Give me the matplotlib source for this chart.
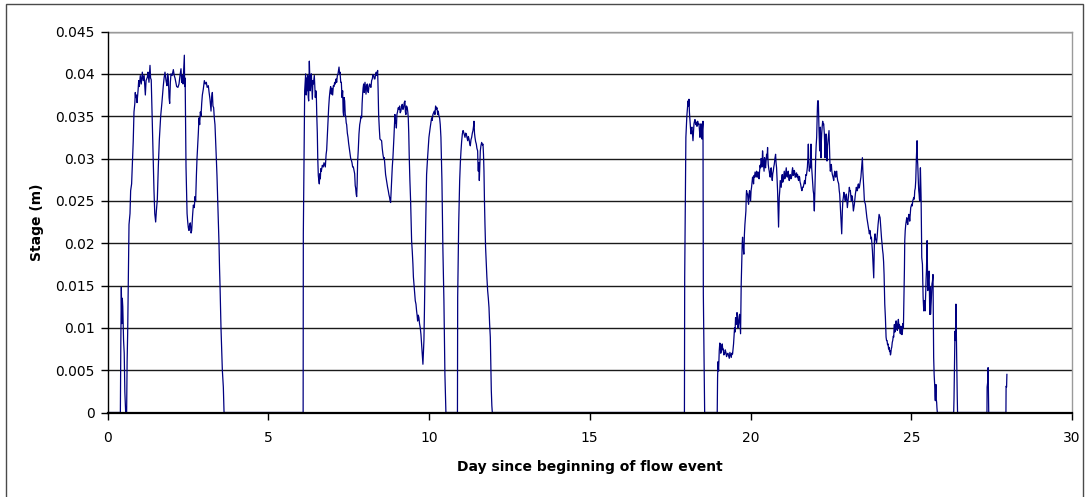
import matplotlib
matplotlib.use("Agg")
import matplotlib.pyplot as plt
from matplotlib.patches import Rectangle
from matplotlib.ticker import FuncFormatter, MultipleLocator

plt.rcParams['font.family'] = ['DejaVu Sans']

# Stage record (day since start of event, stage in metres), one list per wet spell
event_1 = [
    (0.00, 0), (0.40, 0), (0.415, 0.0085), (0.43, 0.0148), (0.445, 0.0105), (0.46, 0.0135),
    (0.475, 0.0125), (0.50, 0.0085), (0.52, 0.0070), (0.54, 0.0024), (0.565, 0), (0.595, 0),
    (0.61, 0.0060), (0.627, 0.0093), (0.645, 0.0145), (0.669, 0.0222), (0.70, 0.0235),
    (0.72, 0.0262), (0.75, 0.0270), (0.78, 0.0300), (0.80, 0.0320), (0.824, 0.0355),
    (0.85, 0.0365), (0.865, 0.0378), (0.876, 0.0372), (0.90, 0.0375), (0.918, 0.0366),
    (0.95, 0.0380), (0.97, 0.0392), (0.99, 0.0385), (1.02, 0.0398), (1.05, 0.0388),
    (1.083, 0.0402), (1.11, 0.0392), (1.14, 0.0398), (1.177, 0.0375), (1.20, 0.0392),
    (1.239, 0.0396), (1.26, 0.0402), (1.29, 0.0390), (1.322, 0.0410), (1.34, 0.0395),
    (1.36, 0.0393), (1.38, 0.0360), (1.395, 0.0340), (1.42, 0.0300), (1.446, 0.0262),
    (1.47, 0.0235), (1.498, 0.0225), (1.52, 0.0238), (1.55, 0.0252), (1.58, 0.0290),
    (1.612, 0.0322), (1.654, 0.0350), (1.69, 0.0365), (1.736, 0.0386), (1.76, 0.0395),
    (1.788, 0.0402), (1.82, 0.0392), (1.85, 0.0386), (1.87, 0.0400), (1.892, 0.0395),
    (1.915, 0.0372), (1.934, 0.0365), (1.955, 0.0390), (1.975, 0.0400), (2.01, 0.0398),
    (2.048, 0.0405), (2.075, 0.0398), (2.10, 0.0395), (2.125, 0.0390), (2.151, 0.0385),
    (2.19, 0.0384), (2.224, 0.0388), (2.255, 0.0398), (2.286, 0.0406), (2.305, 0.0390),
    (2.327, 0.0398), (2.35, 0.0388), (2.37, 0.0405), (2.39, 0.0422), (2.40, 0.0385),
    (2.415, 0.0395), (2.43, 0.0330), (2.442, 0.0290), (2.46, 0.0260), (2.475, 0.0235),
    (2.493, 0.0226), (2.515, 0.0218), (2.535, 0.0215), (2.556, 0.0222), (2.576, 0.0224),
    (2.60, 0.0212), (2.618, 0.0215), (2.645, 0.0232), (2.67, 0.0245), (2.70, 0.0242),
    (2.72, 0.0255), (2.742, 0.0250), (2.765, 0.0280), (2.784, 0.0300), (2.805, 0.0315),
    (2.825, 0.0330), (2.845, 0.0348), (2.867, 0.0340), (2.888, 0.0355), (2.908, 0.0350),
    (2.93, 0.0365), (2.95, 0.0375), (2.98, 0.0382), (3.012, 0.0392), (3.04, 0.0388),
    (3.074, 0.0390), (3.10, 0.0384), (3.136, 0.0386), (3.16, 0.0378), (3.188, 0.0370),
    (3.22, 0.0356), (3.24, 0.0372), (3.261, 0.0378), (3.28, 0.0362), (3.302, 0.0360),
    (3.322, 0.0348), (3.343, 0.0340), (3.365, 0.0320), (3.385, 0.0300), (3.405, 0.0280),
    (3.427, 0.0250), (3.448, 0.0225), (3.468, 0.0200), (3.485, 0.0170), (3.50, 0.0150),
    (3.53, 0.0100), (3.55, 0.0075), (3.572, 0.0050), (3.603, 0.0030), (3.625, 0),
]

event_2 = [
    (6.085, 0), (6.091, 0.0211), (6.133, 0.0380), (6.164, 0.0400), (6.18, 0.0375),
    (6.195, 0.0395), (6.21, 0.0380), (6.226, 0.0398), (6.245, 0.0372), (6.257, 0.0368),
    (6.278, 0.0415), (6.295, 0.0392), (6.309, 0.0380), (6.325, 0.0395), (6.340, 0.0400),
    (6.355, 0.0385), (6.371, 0.0370), (6.39, 0.0392), (6.402, 0.0388), (6.433, 0.0398),
    (6.45, 0.0385), (6.464, 0.0372), (6.48, 0.0380), (6.495, 0.0375), (6.51, 0.0350),
    (6.526, 0.0330), (6.54, 0.0300), (6.557, 0.0280), (6.57, 0.0275), (6.588, 0.0270),
    (6.605, 0.0282), (6.620, 0.0276), (6.635, 0.0288), (6.651, 0.0285), (6.682, 0.0292),
    (6.71, 0.0290), (6.734, 0.0295), (6.775, 0.0290), (6.80, 0.0305), (6.817, 0.0310),
    (6.848, 0.0335), (6.879, 0.0360), (6.90, 0.0372), (6.921, 0.0380), (6.94, 0.0385),
    (6.962, 0.0376), (6.98, 0.0383), (7.003, 0.0375), (7.025, 0.0386), (7.045, 0.0385),
    (7.065, 0.0390), (7.087, 0.0388), (7.11, 0.0394), (7.128, 0.0390), (7.15, 0.0398),
    (7.17, 0.0400), (7.201, 0.0408), (7.22, 0.0400), (7.232, 0.0402), (7.255, 0.0390),
    (7.273, 0.0390), (7.295, 0.0372), (7.314, 0.0380), (7.33, 0.0355), (7.346, 0.0350),
    (7.36, 0.0372), (7.377, 0.0368), (7.395, 0.0352), (7.408, 0.0350), (7.425, 0.0342),
    (7.439, 0.0340), (7.46, 0.0330), (7.481, 0.0325), (7.50, 0.0318), (7.522, 0.0312),
    (7.545, 0.0305), (7.564, 0.0300), (7.585, 0.0298), (7.605, 0.0295), (7.625, 0.0290),
    (7.647, 0.0290), (7.668, 0.0286), (7.688, 0.0282), (7.705, 0.0268), (7.719, 0.0265),
    (7.735, 0.0258), (7.750, 0.0255), (7.765, 0.0270), (7.781, 0.0297), (7.80, 0.0310),
    (7.822, 0.0329), (7.845, 0.0340), (7.864, 0.0344), (7.885, 0.0350), (7.905, 0.0348),
    (7.92, 0.0365), (7.936, 0.0376), (7.95, 0.0383), (7.967, 0.0388), (7.985, 0.0378),
    (8.009, 0.0390), (8.025, 0.0382), (8.04, 0.0376), (8.06, 0.0386), (8.081, 0.0388),
    (8.095, 0.0380), (8.112, 0.0378), (8.135, 0.0386), (8.154, 0.0388), (8.175, 0.0385),
    (8.195, 0.0384), (8.215, 0.0392), (8.236, 0.0394), (8.256, 0.0399), (8.278, 0.0398),
    (8.30, 0.0394), (8.319, 0.0394), (8.34, 0.0400), (8.36, 0.0402), (8.38, 0.0398),
    (8.402, 0.0404), (8.418, 0.0380), (8.433, 0.0352), (8.455, 0.0335), (8.474, 0.0323),
    (8.50, 0.0322), (8.526, 0.0321), (8.545, 0.0312), (8.567, 0.0305), (8.589, 0.0300),
    (8.609, 0.0301), (8.63, 0.0290), (8.65, 0.0281), (8.67, 0.0276), (8.692, 0.0270),
    (8.712, 0.0266), (8.733, 0.0262), (8.755, 0.0257), (8.774, 0.0254), (8.79, 0.0250),
    (8.806, 0.0248), (8.82, 0.0260), (8.837, 0.0274), (8.858, 0.0290), (8.878, 0.0301),
    (8.895, 0.0314), (8.909, 0.0325), (8.925, 0.0340), (8.94, 0.0352), (8.955, 0.0342),
    (8.971, 0.0344), (8.985, 0.0336), (9.002, 0.0352), (9.02, 0.0355), (9.044, 0.0360),
    (9.065, 0.0358), (9.085, 0.0362), (9.105, 0.0354), (9.127, 0.0356), (9.148, 0.0362),
    (9.168, 0.0364), (9.19, 0.0358), (9.21, 0.0360), (9.23, 0.0366), (9.251, 0.0368),
    (9.265, 0.0355), (9.282, 0.0352), (9.30, 0.0362), (9.324, 0.0360), (9.34, 0.0355),
    (9.355, 0.0348), (9.37, 0.0330), (9.386, 0.0301), (9.405, 0.0275), (9.428, 0.0250),
    (9.445, 0.0225), (9.459, 0.0203), (9.48, 0.0190), (9.50, 0.0175), (9.515, 0.0160),
    (9.532, 0.0152), (9.55, 0.0145), (9.573, 0.0132), (9.595, 0.0128), (9.614, 0.0120),
    (9.63, 0.0115), (9.646, 0.0108), (9.665, 0.0115), (9.687, 0.0112), (9.705, 0.0105),
    (9.728, 0.0100), (9.75, 0.0092), (9.77, 0.0081), (9.79, 0.0070), (9.811, 0.0057),
    (9.825, 0.0070), (9.842, 0.0085), (9.858, 0.0120), (9.873, 0.0163), (9.894, 0.0215),
    (9.91, 0.0250), (9.925, 0.0281), (9.956, 0.0301), (9.998, 0.0325), (10.039, 0.0337),
    (10.081, 0.0348), (10.10, 0.0345), (10.122, 0.0352), (10.164, 0.0356), (10.185, 0.0352),
    (10.205, 0.0362), (10.225, 0.0358), (10.247, 0.0360), (10.27, 0.0352), (10.288, 0.0356),
    (10.31, 0.0350), (10.33, 0.0348), (10.35, 0.0340), (10.371, 0.0325), (10.385, 0.0300),
    (10.402, 0.0274), (10.418, 0.0230), (10.433, 0.0191), (10.45, 0.0160), (10.464, 0.0132),
    (10.48, 0.0090), (10.495, 0.0045), (10.515, 0.0015), (10.526, 0),
]

event_3 = [
    (10.885, 0), (10.892, 0.0136), (10.923, 0.0222), (10.954, 0.0274), (10.975, 0.0295),
    (10.995, 0.0309), (11.015, 0.0320), (11.037, 0.0329), (11.06, 0.0333), (11.078, 0.0331),
    (11.10, 0.0328), (11.12, 0.0325), (11.14, 0.0330), (11.161, 0.0329), (11.18, 0.0325),
    (11.203, 0.0321), (11.225, 0.0326), (11.244, 0.0323), (11.265, 0.0318), (11.285, 0.0315),
    (11.305, 0.0322), (11.327, 0.0325), (11.348, 0.0330), (11.368, 0.0333), (11.385, 0.0338),
    (11.399, 0.0344), (11.415, 0.0330), (11.43, 0.0325), (11.45, 0.0320), (11.472, 0.0317),
    (11.49, 0.0312), (11.513, 0.0309), (11.525, 0.0290), (11.534, 0.0285), (11.55, 0.0295),
    (11.565, 0.0274), (11.58, 0.0290), (11.596, 0.0309), (11.615, 0.0315), (11.638, 0.0319),
    (11.66, 0.0316), (11.679, 0.0317), (11.695, 0.0305), (11.71, 0.0285), (11.725, 0.0250),
    (11.741, 0.0222), (11.76, 0.0195), (11.783, 0.0175), (11.80, 0.0160), (11.824, 0.0144),
    (11.845, 0.0135), (11.866, 0.0124), (11.885, 0.0105), (11.907, 0.0089), (11.92, 0.0060),
    (11.938, 0.0026), (11.955, 0.0008), (11.969, 0),
]

event_4 = [
    (17.945, 0), (17.953, 0.0159), (17.975, 0.0260), (17.99, 0.0325), (18.02, 0.0350),
    (18.04, 0.0360), (18.056, 0.0368), (18.07, 0.0362), (18.087, 0.0370), (18.10, 0.0355),
    (18.118, 0.0344), (18.135, 0.0335), (18.149, 0.0329), (18.165, 0.0336), (18.18, 0.0337),
    (18.195, 0.0330), (18.211, 0.0321), (18.225, 0.0330), (18.242, 0.0341), (18.258, 0.0344),
    (18.273, 0.0346), (18.295, 0.0340), (18.315, 0.0343), (18.335, 0.0338), (18.356, 0.0344),
    (18.378, 0.0340), (18.398, 0.0341), (18.415, 0.0333), (18.429, 0.0325), (18.445, 0.0335),
    (18.46, 0.0341), (18.475, 0.0330), (18.491, 0.0323), (18.505, 0.0335), (18.522, 0.0344),
    (18.533, 0.0140), (18.574, 0),
]

event_5 = [
    (18.965, 0), (18.976, 0.0041), (18.99, 0.0060), (19.007, 0.0049), (19.028, 0.0073),
    (19.045, 0.0082), (19.059, 0.0081), (19.075, 0.0070), (19.09, 0.0073), (19.105, 0.0078),
    (19.121, 0.0081), (19.137, 0.0074), (19.152, 0.0075), (19.17, 0.0068), (19.194, 0.0069),
    (19.215, 0.0074), (19.235, 0.0071), (19.255, 0.0066), (19.276, 0.0069), (19.297, 0.0070),
    (19.318, 0.0067), (19.34, 0.0064), (19.359, 0.0071), (19.38, 0.0068), (19.401, 0.0065),
    (19.42, 0.0070), (19.442, 0.0069), (19.473, 0.0081), (19.504, 0.0100), (19.52, 0.0095),
    (19.535, 0.0112), (19.55, 0.0108), (19.566, 0.0104), (19.58, 0.0118), (19.597, 0.0114),
    (19.612, 0.0100), (19.628, 0.0104), (19.645, 0.0110), (19.659, 0.0116), (19.675, 0.0105),
    (19.691, 0.0093), (19.70, 0.0120), (19.711, 0.0152), (19.722, 0.0170), (19.732, 0.0183),
    (19.743, 0.0200), (19.753, 0.0207), (19.765, 0.0196), (19.774, 0.0199), (19.784, 0.0190),
    (19.794, 0.0187), (19.81, 0.0210), (19.826, 0.0222), (19.842, 0.0230), (19.857, 0.0238),
    (19.867, 0.0255), (19.877, 0.0262), (19.893, 0.0258), (19.909, 0.0258), (19.925, 0.0250),
    (19.94, 0.0246), (19.955, 0.0258), (19.971, 0.0262), (19.987, 0.0256), (20.002, 0.0250),
    (20.018, 0.0262), (20.033, 0.0266), (20.05, 0.0272), (20.064, 0.0278), (20.08, 0.0276),
    (20.095, 0.0270), (20.11, 0.0280), (20.126, 0.0278), (20.142, 0.0284), (20.158, 0.0281),
    (20.173, 0.0278), (20.189, 0.0285), (20.205, 0.0280), (20.22, 0.0278), (20.236, 0.0284),
    (20.251, 0.0281), (20.267, 0.0276), (20.282, 0.0285), (20.298, 0.0292), (20.313, 0.0289),
    (20.33, 0.0300), (20.344, 0.0297), (20.36, 0.0290), (20.375, 0.0309), (20.39, 0.0300),
    (20.406, 0.0293), (20.422, 0.0285), (20.438, 0.0301), (20.453, 0.0292), (20.469, 0.0289),
    (20.485, 0.0298), (20.50, 0.0305), (20.515, 0.0300), (20.531, 0.0313), (20.542, 0.0300),
    (20.552, 0.0293), (20.568, 0.0288), (20.583, 0.0285), (20.60, 0.0280), (20.614, 0.0278),
    (20.63, 0.0288), (20.645, 0.0289), (20.66, 0.0280), (20.677, 0.0274), (20.692, 0.0282),
    (20.708, 0.0285), (20.724, 0.0290), (20.739, 0.0293), (20.76, 0.0300), (20.78, 0.0305),
    (20.795, 0.0295), (20.811, 0.0289), (20.826, 0.0275), (20.842, 0.0262), (20.858, 0.0240),
    (20.873, 0.0219), (20.884, 0.0240), (20.894, 0.0254), (20.91, 0.0262), (20.925, 0.0274),
    (20.94, 0.0270), (20.956, 0.0266), (20.97, 0.0276), (20.987, 0.0281), (21.002, 0.0272),
    (21.018, 0.0274), (21.034, 0.0280), (21.05, 0.0285), (21.065, 0.0276), (21.081, 0.0278),
    (21.097, 0.0284), (21.112, 0.0289), (21.128, 0.0280), (21.143, 0.0278), (21.158, 0.0282),
    (21.174, 0.0285), (21.19, 0.0278), (21.205, 0.0274), (21.22, 0.0280), (21.236, 0.0281),
    (21.257, 0.0276), (21.278, 0.0278), (21.294, 0.0285), (21.309, 0.0289), (21.325, 0.0280),
    (21.34, 0.0281), (21.356, 0.0286), (21.371, 0.0285), (21.387, 0.0278), (21.402, 0.0278),
    (21.418, 0.0282), (21.433, 0.0283), (21.45, 0.0278), (21.464, 0.0281), (21.48, 0.0276),
    (21.495, 0.0274), (21.51, 0.0279), (21.527, 0.0278), (21.542, 0.0272), (21.558, 0.0270),
    (21.58, 0.0265), (21.599, 0.0262), (21.62, 0.0266), (21.64, 0.0266), (21.66, 0.0270),
    (21.682, 0.0274), (21.70, 0.0270), (21.723, 0.0281), (21.74, 0.0280), (21.754, 0.0285),
    (21.77, 0.0290), (21.785, 0.0301), (21.799, 0.0317), (21.81, 0.0300), (21.83, 0.0285),
    (21.846, 0.0290), (21.861, 0.0289), (21.872, 0.0300), (21.882, 0.0317), (21.893, 0.0300),
    (21.903, 0.0289), (21.918, 0.0280), (21.934, 0.0270), (21.95, 0.0262), (21.965, 0.0258),
    (21.976, 0.0245), (21.986, 0.0238), (21.996, 0.0255), (22.006, 0.0270), (22.017, 0.0285),
    (22.027, 0.0301), (22.042, 0.0315), (22.058, 0.0325), (22.07, 0.0345), (22.081, 0.0360),
    (22.089, 0.0368), (22.10, 0.0362), (22.11, 0.0368), (22.12, 0.0350), (22.131, 0.0333),
    (22.142, 0.0320), (22.152, 0.0309), (22.162, 0.0325), (22.172, 0.0337), (22.183, 0.0315),
    (22.193, 0.0301), (22.204, 0.0320), (22.214, 0.0329), (22.23, 0.0338), (22.245, 0.0344),
    (22.26, 0.0340), (22.276, 0.0341), (22.287, 0.0335), (22.297, 0.0329), (22.308, 0.0315),
    (22.318, 0.0301), (22.333, 0.0318), (22.349, 0.0329), (22.364, 0.0310), (22.38, 0.0297),
    (22.395, 0.0315), (22.411, 0.0321), (22.427, 0.0328), (22.442, 0.0333), (22.452, 0.0318),
    (22.463, 0.0301), (22.474, 0.0290), (22.484, 0.0285), (22.50, 0.0290), (22.515, 0.0293),
    (22.53, 0.0285), (22.546, 0.0281), (22.567, 0.0278), (22.588, 0.0274), (22.603, 0.0280),
    (22.619, 0.0285), (22.635, 0.0280), (22.65, 0.0278), (22.665, 0.0284), (22.681, 0.0285),
    (22.697, 0.0278), (22.712, 0.0274), (22.728, 0.0272), (22.743, 0.0270), (22.76, 0.0262),
    (22.774, 0.0258), (22.79, 0.0246), (22.806, 0.0234), (22.822, 0.0220), (22.837, 0.0211),
    (22.847, 0.0225), (22.857, 0.0238), (22.872, 0.0250), (22.888, 0.0254), (22.904, 0.0260),
    (22.92, 0.0258), (22.935, 0.0252), (22.951, 0.0250), (22.966, 0.0255), (22.982, 0.0258),
    (22.997, 0.0250), (23.013, 0.0242), (23.028, 0.0248), (23.044, 0.0254), (23.06, 0.0262),
    (23.075, 0.0266), (23.09, 0.0262), (23.106, 0.0262), (23.122, 0.0255), (23.138, 0.0250),
    (23.153, 0.0256), (23.169, 0.0254), (23.185, 0.0245), (23.20, 0.0238), (23.216, 0.0242),
    (23.231, 0.0246), (23.247, 0.0252), (23.262, 0.0258), (23.278, 0.0262), (23.293, 0.0266),
    (23.31, 0.0262), (23.325, 0.0262), (23.34, 0.0268), (23.356, 0.0270), (23.372, 0.0265),
    (23.387, 0.0266), (23.402, 0.0270), (23.418, 0.0274), (23.434, 0.0278), (23.449, 0.0285),
    (23.465, 0.0292), (23.48, 0.0301), (23.495, 0.0285), (23.511, 0.0274), (23.527, 0.0262),
    (23.542, 0.0250), (23.558, 0.0248), (23.574, 0.0246), (23.59, 0.0240), (23.605, 0.0234),
    (23.62, 0.0230), (23.636, 0.0226), (23.652, 0.0222), (23.667, 0.0219), (23.683, 0.0215),
    (23.698, 0.0211), (23.714, 0.0215), (23.729, 0.0211), (23.745, 0.0205), (23.761, 0.0207),
    (23.776, 0.0200), (23.792, 0.0191), (23.802, 0.0183), (23.812, 0.0175), (23.822, 0.0168),
    (23.833, 0.0159), (23.843, 0.0180), (23.854, 0.0203), (23.865, 0.0210), (23.875, 0.0211),
    (23.89, 0.0205), (23.906, 0.0203), (23.92, 0.0200), (23.937, 0.0207), (23.952, 0.0215),
    (23.968, 0.0222), (23.984, 0.0228), (24.00, 0.0234), (24.015, 0.0232), (24.031, 0.0230),
    (24.046, 0.0222), (24.062, 0.0215), (24.077, 0.0205), (24.093, 0.0199), (24.108, 0.0192),
    (24.124, 0.0187), (24.14, 0.0178), (24.155, 0.0163), (24.166, 0.0145), (24.176, 0.0128),
    (24.186, 0.0120), (24.196, 0.0112), (24.207, 0.0100), (24.217, 0.0089), (24.232, 0.0085),
    (24.248, 0.0085), (24.263, 0.0080), (24.279, 0.0081), (24.295, 0.0075), (24.31, 0.0077),
    (24.325, 0.0072), (24.341, 0.0073), (24.352, 0.0068), (24.362, 0.0069), (24.378, 0.0075),
    (24.393, 0.0077), (24.41, 0.0083), (24.424, 0.0085), (24.44, 0.0090), (24.455, 0.0089),
    (24.466, 0.0100), (24.476, 0.0104), (24.49, 0.0095), (24.507, 0.0100), (24.522, 0.0108),
    (24.538, 0.0108), (24.553, 0.0098), (24.569, 0.0097), (24.585, 0.0105), (24.60, 0.0110),
    (24.616, 0.0100), (24.632, 0.0104), (24.648, 0.0095), (24.663, 0.0093), (24.678, 0.0102),
    (24.694, 0.0100), (24.71, 0.0092), (24.725, 0.0095), (24.74, 0.0105), (24.756, 0.0100),
    (24.766, 0.0120), (24.777, 0.0136), (24.788, 0.0170), (24.798, 0.0203), (24.813, 0.0215),
    (24.829, 0.0222), (24.845, 0.0226), (24.86, 0.0230), (24.876, 0.0225), (24.891, 0.0222),
    (24.907, 0.0228), (24.922, 0.0234), (24.938, 0.0232), (24.953, 0.0226), (24.969, 0.0235),
    (24.984, 0.0242), (25.00, 0.0244), (25.015, 0.0246), (25.031, 0.0244), (25.047, 0.0250),
    (25.062, 0.0252), (25.078, 0.0254), (25.094, 0.0252), (25.109, 0.0262), (25.125, 0.0265),
    (25.14, 0.0274), (25.15, 0.0290), (25.16, 0.0301), (25.17, 0.0312), (25.181, 0.0321),
    (25.191, 0.0300), (25.202, 0.0293), (25.212, 0.0280), (25.223, 0.0270), (25.233, 0.0262),
    (25.244, 0.0258), (25.254, 0.0252), (25.265, 0.0250), (25.275, 0.0275), (25.285, 0.0289),
    (25.296, 0.0270), (25.306, 0.0254), (25.316, 0.0220), (25.327, 0.0183), (25.338, 0.0178),
    (25.348, 0.0175), (25.358, 0.0155), (25.369, 0.0136), (25.379, 0.0128), (25.389, 0.0120),
    (25.40, 0.0128), (25.41, 0.0132), (25.42, 0.0125), (25.431, 0.0120), (25.441, 0.0130),
    (25.452, 0.0144), (25.462, 0.0158), (25.472, 0.0167), (25.483, 0.0185), (25.493, 0.0203),
    (25.503, 0.0170), (25.514, 0.0144), (25.524, 0.0150), (25.535, 0.0159), (25.545, 0.0165),
    (25.555, 0.0167), (25.566, 0.0140), (25.576, 0.0116), (25.583, 0.0148), (25.60, 0.0116),
    (25.62, 0.0130), (25.645, 0.0152), (25.66, 0.0155), (25.676, 0.0163), (25.687, 0.0110),
    (25.697, 0.0065), (25.712, 0.0045), (25.728, 0.0033), (25.74, 0.0020), (25.749, 0.0014),
    (25.76, 0.0030), (25.77, 0.0033), (25.78, 0.0015), (25.79, 0.0012), (25.80, 0.0005),
    (25.811, 0),
]

event_6 = [
    (26.32, 0), (26.33, 0.0016), (26.36, 0.0096), (26.375, 0.0085), (26.39, 0.0128),
    (26.40, 0.0100), (26.41, 0.0069), (26.43, 0.0020), (26.44, 0),
]

event_7 = [
    (27.355, 0), (27.36, 0.0030), (27.375, 0.0035), (27.39, 0.0053), (27.40, 0.0030), (27.41, 0),
]

event_8 = [
    (27.945, 0), (27.95, 0.0031), (27.965, 0.0030), (27.975, 0.0045),
]

events = [event_1, event_2, event_3, event_4, event_5, event_6, event_7, event_8]
day = [d for ev in events for d, _ in ev]
stage = [s for ev in events for _, s in ev]

x_ticks = [0, 5, 10, 15, 20, 25, 30]
y_max = 0.045
y_step = 0.005

W, H = 1086, 497
fig = plt.figure(figsize=(W / 100, H / 100), dpi=100)
fig.patch.set_facecolor('white')

# chart-area frame
fig.patches.append(Rectangle((5.5 / W, -0.05), (1082.5 - 5.5) / W, 1.05 - 3.5 / H,
                             transform=fig.transFigure, fill=False,
                             edgecolor='#4a4a4a', linewidth=1.0))

left, right, bottom, top = 107.5 / W, 1072 / W, 1 - 412.5 / H, 1 - 31.5 / H
ax = fig.add_axes([left, bottom, right - left, top - bottom])

ax.plot(day, stage, color='#000080', linewidth=0.9, zorder=2)

ax.set_xlim(0, 30)
ax.set_ylim(0, y_max)
ax.set_xticks(x_ticks)
ax.yaxis.set_major_locator(MultipleLocator(y_step))
ax.yaxis.set_major_formatter(FuncFormatter(lambda v, p: '0' if abs(v) < 1e-12 else f'{v:.3f}'.rstrip('0')))

ax.grid(axis='y', color='#1a1a1a', linewidth=1.0, zorder=1)
ax.set_axisbelow(True)

ax.spines['left'].set_color('#000000')
ax.spines['left'].set_linewidth(1.0)
ax.spines['left'].set_zorder(5)
# the x axis sits on top of the dry-spell zero readings
ax.spines['bottom'].set_color('#000000')
ax.spines['bottom'].set_linewidth(1.6)
ax.spines['bottom'].set_zorder(5)
for side in ('top', 'right'):
    ax.spines[side].set_color('#9a9a9a')
    ax.spines[side].set_linewidth(1.0)

ax.tick_params(axis='both', direction='out', length=5, width=1.0, color='#000000',
               labelsize=10, labelcolor='#000000')
ax.tick_params(axis='y', pad=4)
ax.tick_params(axis='x', pad=8)

ax.set_xlabel('Day since beginning of flow event', fontsize=10, fontweight='bold', labelpad=11)
ax.set_ylabel('Stage (m)', fontsize=10, fontweight='bold', labelpad=8)

fig.savefig('out.png', dpi=100, facecolor='white')
